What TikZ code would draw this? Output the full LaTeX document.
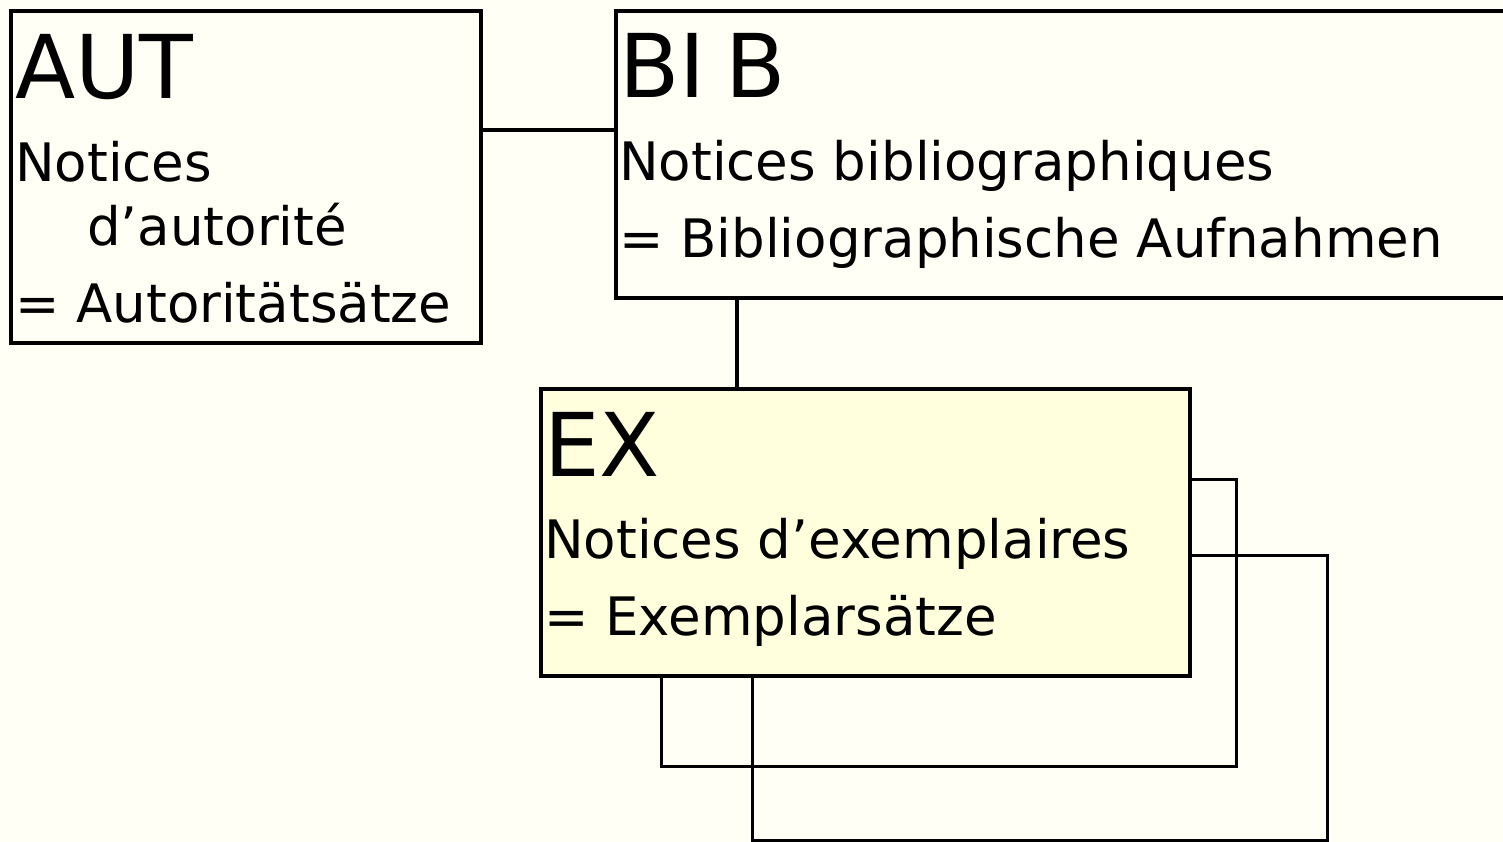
\documentclass[tikz,border=0pt]{standalone}
\usepackage{fontspec}
\setmainfont{DejaVu Sans}
\definecolor{bgcol}{RGB}{255,255,246}
\definecolor{exfill}{RGB}{255,255,221}
\begin{document}
\begin{tikzpicture}[x=1pt,y=-1pt,
  box/.style={draw=black,line width=3.8pt,inner sep=0pt,outer sep=0pt,anchor=north west},
  big/.style={font=\fontsize{88}{96}\selectfont,anchor=base west,inner sep=0pt},
  txt/.style={font=\fontsize{53}{60}\selectfont,anchor=base west,inner sep=0pt},
  link/.style={line width=3.8pt},
  loopline/.style={line width=3pt}]
\fill[bgcol] (0,0) rectangle (1503,842);
\useasboundingbox (0,0) rectangle (1503,842);
% boxes
\node[box, minimum width=470pt, minimum height=332pt] (aut) at (11,11) {};
\node[box, minimum width=900pt, minimum height=287pt] (bib) at (616,11) {};
\node[box, fill=exfill, minimum width=649pt, minimum height=287pt] (ex) at (541,389) {};
% AUT texts
\node[big] (autT) at (15,99) {AUT};
\node[txt] (aut1) at (15,182) {Notices};
\node[txt] (aut2) at (87,245) {d’autorité};
\node[txt] (aut3) at (15,322) {= Autoritätsätze};
% BIB texts
\node[big] (bibT) at (619,98) {BI\kern20pt B};
\node[txt] (bib1) at (619,181) {Notices bibliographiques};
\node[txt] (bib2) at (619,258) {= Bibliographische Aufnahmen};
% EX texts
\node[big] (exT) at (544,476) {EX};
\node[txt] (ex1) at (544,558) {Notices d’exemplaires};
\node[txt] (ex2) at (544,635) {= Exemplarsätze};
% connectors
\draw[link] ([yshift=-119pt]aut.north east) -- ([yshift=-119pt]bib.north west);
\draw[link] ([xshift=196pt]ex.north west) -- ([xshift=196pt]ex.north west |- bib.south);
\draw[loopline] ([yshift=-90pt]ex.north east) -- ++(46,0) -- ++(0,287) -| ([xshift=120pt]ex.south west);
\draw[loopline] ([yshift=-166pt]ex.north east) -- ++(137,0) -- ++(0,285) -| ([xshift=211pt]ex.south west);
\end{tikzpicture}
\end{document}
